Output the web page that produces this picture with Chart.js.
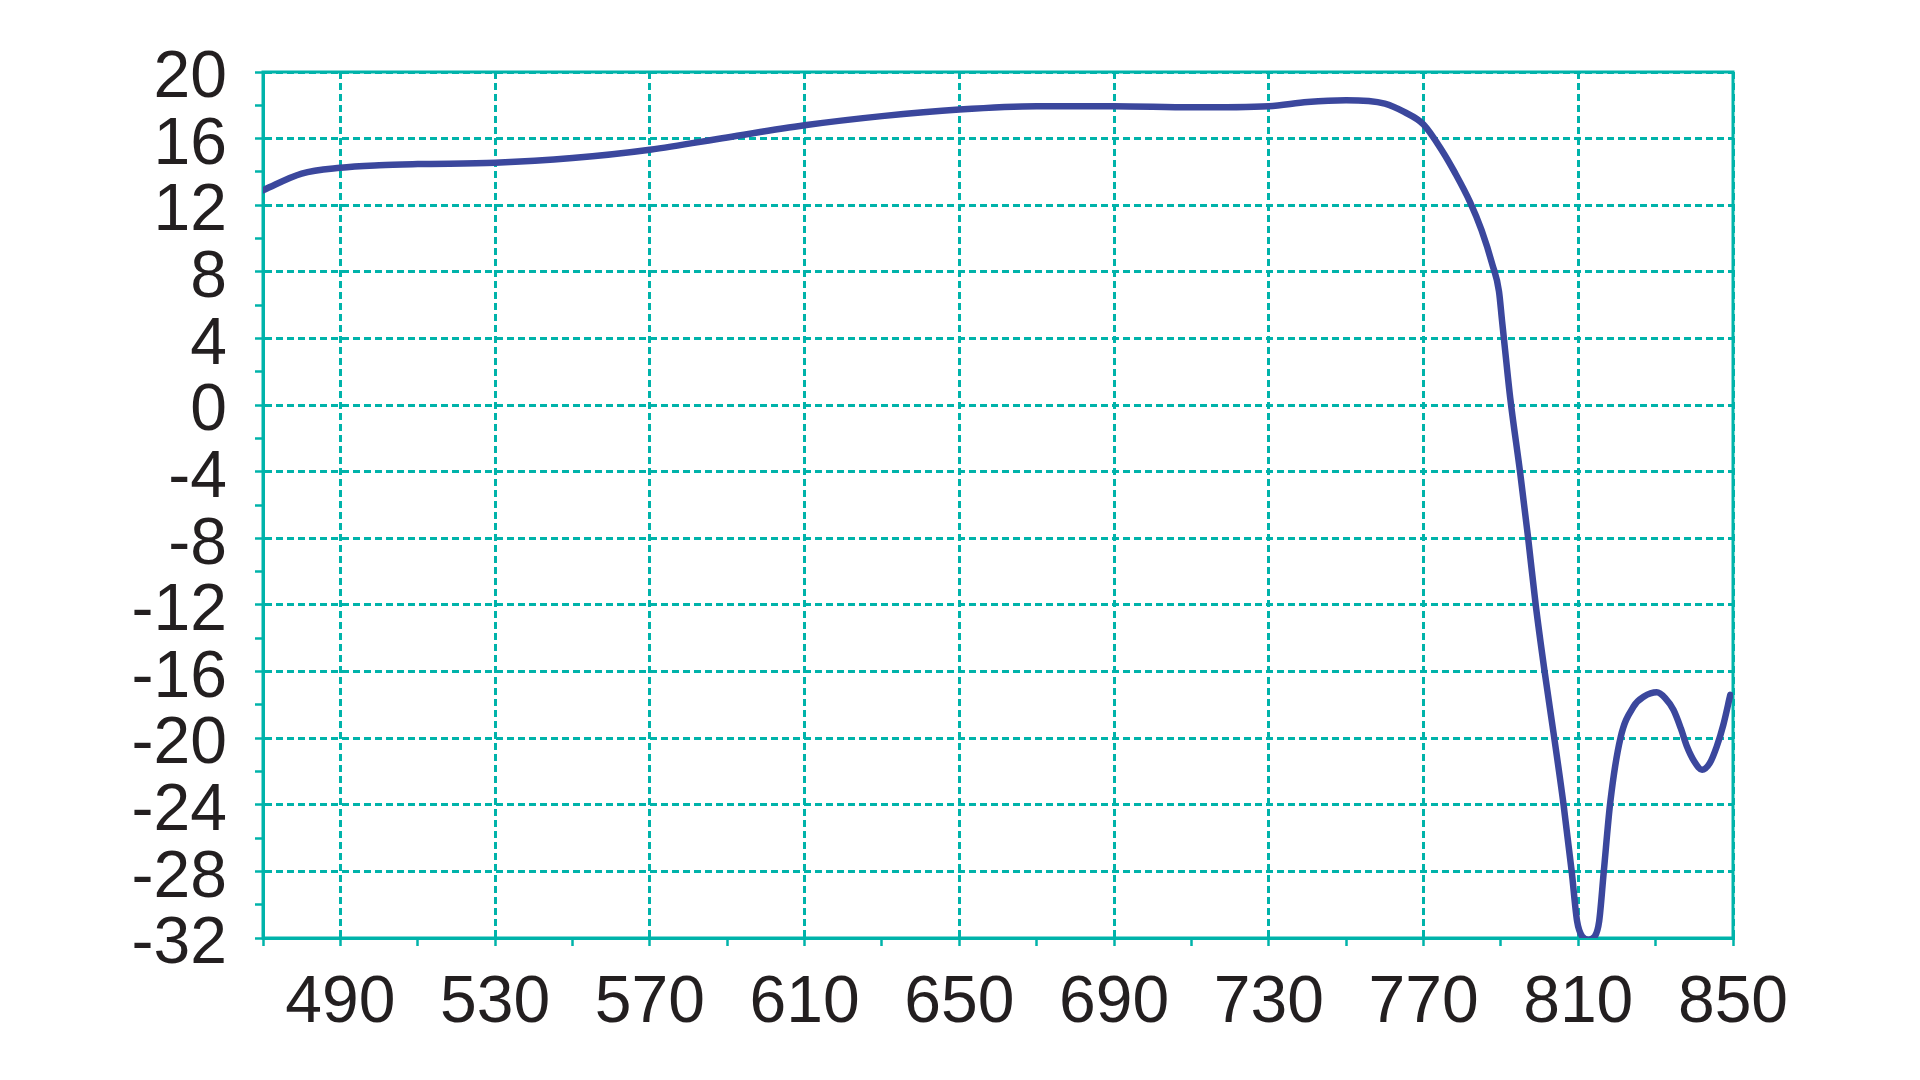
<!DOCTYPE html>
<html>
<head>
<meta charset="utf-8">
<script src="https://cdn.jsdelivr.net/npm/chart.js@4/dist/chart.umd.min.js"></script>
<style>
  html, body { margin: 0; padding: 0; background: #ffffff; }
  #wrap { width: 1920px; height: 1080px; }
</style>
</head>
<body>
<div id="wrap"><canvas id="chart" width="1920" height="1080"></canvas></div>
<script>
// wavelength (x) and response (y)
const wavelengths = [470, 480, 490, 500, 510, 530, 550, 570, 590, 610, 630, 650, 670, 690, 710, 730, 740, 750, 760, 765, 770, 775, 778, 782, 785, 787.8, 789.5, 790.3, 791.2, 792.4, 795, 797, 799, 801.3, 803.8, 806.2, 808.3, 809.7, 811, 812.7, 814.3, 815.4, 816.6, 818.3, 820.9, 824.3, 827, 830.3, 832.5, 834.6, 836.5, 838.1, 840, 842, 844, 845.8, 847.5, 849.3];
const response = [12.9, 13.9, 14.25, 14.4, 14.47, 14.55, 14.83, 15.33, 16.07, 16.8, 17.35, 17.75, 17.95, 17.95, 17.88, 17.95, 18.2, 18.3, 18.1, 17.6, 16.85, 15.2, 14.0, 12.2, 10.5, 8.44, 6.84, 5.05, 3.05, 0.45, -4.1, -7.9, -12.0, -16.0, -20.0, -24.0, -28.0, -31.0, -31.9, -32.1, -31.9, -31.0, -28.0, -23.8, -20.0, -18.1, -17.5, -17.25, -17.6, -18.3, -19.4, -20.5, -21.4, -21.9, -21.5, -20.5, -19.2, -17.4];

// axis setup
const xMin = 470, xMax = 850, xStep = 20, xLabelStep = 40, xLabelStart = 490;
const yMin = -32, yMax = 20, yStep = 2, yLabelStep = 4;

const teal = '#00b3aa';
const lineBlue = '#3b479d';
const textColor = '#231f20';

const points = wavelengths.map((w, i) => ({ x: w, y: response[i] }));

// solid frame round the plot area (top/right sides are not drawn by the axes)
const frame = {
    id: 'frame',
    beforeDatasetsDraw(chart) {
        const a = chart.chartArea;
        const ctx = chart.ctx;
        ctx.save();
        ctx.strokeStyle = teal;
        ctx.lineWidth = 3;
        ctx.setLineDash([]);
        ctx.strokeRect(a.left, a.top, a.right - a.left, a.bottom - a.top);
        ctx.restore();
    }
};

const ctx = document.getElementById('chart').getContext('2d');
new Chart(ctx, {
    type: 'line',
    data: {
        datasets: [{
            data: points,
            borderColor: lineBlue, borderWidth: 6.5,
            pointRadius: 0, fill: false,
            cubicInterpolationMode: 'monotone',
            borderCapStyle: 'round', borderJoinStyle: 'round'
        }]
    },
    options: {
        responsive: false, animation: false,
        layout: { padding: { top: 72, right: 187, bottom: 0, left: 0 } },
        plugins: { legend: { display: false }, tooltip: { enabled: false } },
        scales: {
            x: {
                type: 'linear', min: xMin, max: xMax,
                afterFit: s => { s.height = 142; },
                ticks: {
                    stepSize: xStep, autoSkip: false, maxRotation: 0, minRotation: 0,
                    padding: 18, color: textColor,
                    font: { family: 'Liberation Sans, Arial, sans-serif', size: 66 },
                    callback: v => ((v - xLabelStart) % xLabelStep === 0 ? String(v) : '')
                },
                grid: {
                    color: c => (c.tick && (c.tick.value - xLabelStart) % xLabelStep === 0 ? teal : 'rgba(0,0,0,0)'),
                    lineWidth: 3, tickLength: 8, tickColor: teal, tickWidth: 2.5
                },
                border: { color: teal, width: 3, dash: [7, 4] }
            },
            y: {
                type: 'linear', min: yMin, max: yMax,
                afterFit: s => { s.width = 263; },
                ticks: {
                    stepSize: yStep, autoSkip: false, padding: 28, color: textColor,
                    labelOffset: 7,
                    font: { family: 'Liberation Sans, Arial, sans-serif', size: 66 },
                    callback: v => (v % yLabelStep === 0 ? String(v) : '')
                },
                grid: {
                    color: c => (c.tick && c.tick.value % yLabelStep === 0 ? teal : 'rgba(0,0,0,0)'),
                    lineWidth: 3, tickLength: 8, tickColor: teal, tickWidth: 2.5
                },
                border: { color: teal, width: 3, dash: [7, 4] }
            }
        }
    },
    plugins: [frame]
});
</script>
</body>
</html>
